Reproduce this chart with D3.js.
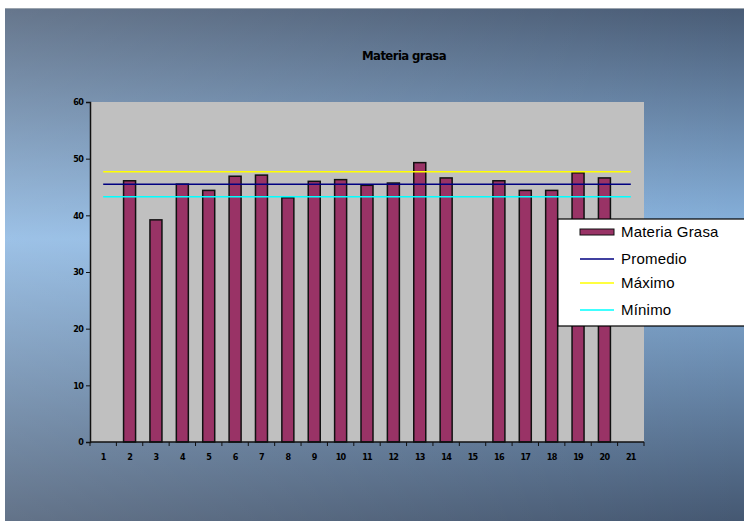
<!doctype html>
<html>
<head>
<meta charset="utf-8" />
<script src="https://cdn.jsdelivr.net/npm/d3@7"></script>
<style>
 body { margin: 0; background: #fff; }
 text { font-family: "Liberation Sans Narrow", "DejaVu Sans Condensed", "Liberation Sans", sans-serif; }
 .lgtext { font-family: "Liberation Sans", Arial, sans-serif; }
</style>
</head>
<body>
<script>
 // data
 var categories = ["1","2","3","4","5","6","7","8","9","10","11","12","13","14","15","16","17","18","19","20","21"];
 var materiaGrasa = [null, 46.1, 39.2, 45.5, 44.4, 46.9, 47.1, 43.1, 46.0, 46.3, 45.3, 45.7, 49.3, 46.6, null, 46.1, 44.4, 44.4, 47.5, 46.6, null];
 var promedio = 45.5;
 var maximo = 47.7;
 var minimo = 43.3;
 var yTicks = [0, 10, 20, 30, 40, 50, 60];
 var legendNames = ["Materia Grasa", "Promedio", "Máximo", "Mínimo"];

 var w = 744, h = 521;
 var plot = {left: 90, right: 644, top: 102, bottom: 442};

 var svg = d3.select("body").append("svg")
     .attr("width", w)
     .attr("height", h);

 var defs = svg.append("defs");
 var bg = defs.append("linearGradient").attr("id", "bg")
     .attr("x1", 0).attr("y1", 0).attr("x2", 0).attr("y2", 1);
 bg.append("stop").attr("offset", "0%").attr("stop-color", "#495c76");
 bg.append("stop").attr("offset", "45%").attr("stop-color", "#8ab6e2");
 bg.append("stop").attr("offset", "100%").attr("stop-color", "#455872");
 var side = defs.append("linearGradient").attr("id", "side")
     .attr("x1", 0).attr("y1", 0).attr("x2", 1).attr("y2", 0);
 side.append("stop").attr("offset", "0%").attr("stop-color", "#fff").attr("stop-opacity", 0.16);
 side.append("stop").attr("offset", "100%").attr("stop-color", "#fff").attr("stop-opacity", 0);

 // chart background
 svg.append("rect").attr("x", 5).attr("y", 8).attr("width", w - 5).attr("height", h - 8)
    .attr("fill", "url(#bg)");
 svg.append("rect").attr("x", 5).attr("y", 8).attr("width", w - 5).attr("height", h - 8)
    .attr("fill", "url(#side)");
 svg.append("line").attr("x1", 5).attr("x2", w).attr("y1", 8.5).attr("y2", 8.5)
    .attr("stroke", "#9aa3ad");

 var xScale = d3.scaleBand()
     .domain(categories)
     .range([plot.left, plot.right]);

 var yScale = d3.scaleLinear()
     .domain([0, 60])
     .range([plot.bottom, plot.top]);

 // plot area
 svg.append("rect")
    .attr("x", plot.left).attr("y", plot.top)
    .attr("width", plot.right - plot.left).attr("height", plot.bottom - plot.top)
    .attr("fill", "#c0c0c0");

 // title
 svg.append("text")
    .attr("x", 404).attr("y", 60)
    .attr("text-anchor", "middle")
    .attr("font-size", "13px")
    .attr("font-weight", "bold")
    .attr("letter-spacing", "-0.6px")
    .attr("fill", "#000")
    .text("Materia grasa");

 // bars
 var barW = 12;
 svg.selectAll(".bar")
    .data(materiaGrasa.map(function(v, i){ return {c: categories[i], v: v}; })
                      .filter(function(d){ return d.v !== null; }))
    .enter()
    .append("rect")
    .attr("class", "bar")
    .attr("x", function(d){ return xScale(d.c) + xScale.bandwidth()/2 - barW/2; })
    .attr("y", function(d){ return yScale(d.v); })
    .attr("width", barW)
    .attr("height", function(d){ return plot.bottom - yScale(d.v); })
    .attr("fill", "#993366")
    .attr("stroke", "#111")
    .attr("stroke-width", 1.5);

 // reference lines, from first to last category
 var line = d3.line()
     .x(function(d){ return xScale(d.c) + xScale.bandwidth()/2; })
     .y(function(d){ return yScale(d.v); });

 var refs = [
     {name: "Promedio", value: promedio, color: "#000080"},
     {name: "Máximo", value: maximo, color: "#ffff00"},
     {name: "Mínimo", value: minimo, color: "#00ffff"}
 ];
 refs.forEach(function(r){
     svg.append("path")
        .datum(categories.map(function(c){ return {c: c, v: r.value}; }))
        .attr("d", line)
        .attr("fill", "none")
        .attr("stroke", r.color)
        .attr("stroke-width", 1.5);
 });

 // y axis
 var yAxis = d3.axisLeft(yScale).tickValues(yTicks).tickSize(4).tickPadding(3);
 var gy = svg.append("g")
    .attr("transform", "translate(" + plot.left + ",0)")
    .call(yAxis);
 gy.select(".domain").attr("stroke", "#111").attr("stroke-width", 1.5);
 gy.selectAll(".tick line").attr("stroke", "#111");
 gy.selectAll("text").attr("font-size", "9px").attr("font-weight", "bold").attr("fill", "#000")
   .attr("letter-spacing", "-0.8px");

 // x axis, tick marks between categories
 var gx = svg.append("g")
    .attr("transform", "translate(0," + plot.bottom + ")");
 gx.append("line")
   .attr("x1", plot.left).attr("x2", plot.right)
   .attr("stroke", "#111").attr("stroke-width", 1.5);
 gx.selectAll(".xt")
   .data(categories.concat(["end"]))
   .enter().append("line")
   .attr("class", "xt")
   .attr("x1", function(d, i){ return plot.left + i * xScale.bandwidth(); })
   .attr("x2", function(d, i){ return plot.left + i * xScale.bandwidth(); })
   .attr("y1", 0).attr("y2", 4)
   .attr("stroke", "#111");
 gx.selectAll(".xl")
   .data(categories)
   .enter().append("text")
   .attr("class", "xl")
   .attr("x", function(d){ return xScale(d) + xScale.bandwidth()/2; })
   .attr("y", 18)
   .attr("text-anchor", "middle")
   .attr("font-size", "9px")
   .attr("font-weight", "bold")
   .attr("letter-spacing", "-0.8px")
   .attr("fill", "#000")
   .text(function(d){ return d; });

 // legend
 var lg = svg.append("g").attr("transform", "translate(558,219)");
 lg.append("rect")
   .attr("x", 0).attr("y", 0).attr("width", 200).attr("height", 107)
   .attr("fill", "#fff").attr("stroke", "#000").attr("stroke-width", 1.2);
 var rowY = [13, 40, 64, 91];
 legendNames.forEach(function(name, i){
     if (i === 0) {
         lg.append("rect").attr("x", 22).attr("y", rowY[i] - 3).attr("width", 34).attr("height", 6)
           .attr("fill", "#993366").attr("stroke", "#111").attr("stroke-width", 1);
     } else {
         lg.append("line").attr("x1", 22).attr("x2", 56).attr("y1", rowY[i]).attr("y2", rowY[i])
           .attr("stroke", refs[i - 1].color).attr("stroke-width", 1.5);
     }
     lg.append("text")
       .attr("class", "lgtext")
       .attr("x", 63).attr("y", rowY[i] + 5)
       .attr("font-size", "15px")
       .attr("letter-spacing", "0.2px")
       .attr("fill", "#000")
       .text(name);
 });
</script>
</body>
</html>
